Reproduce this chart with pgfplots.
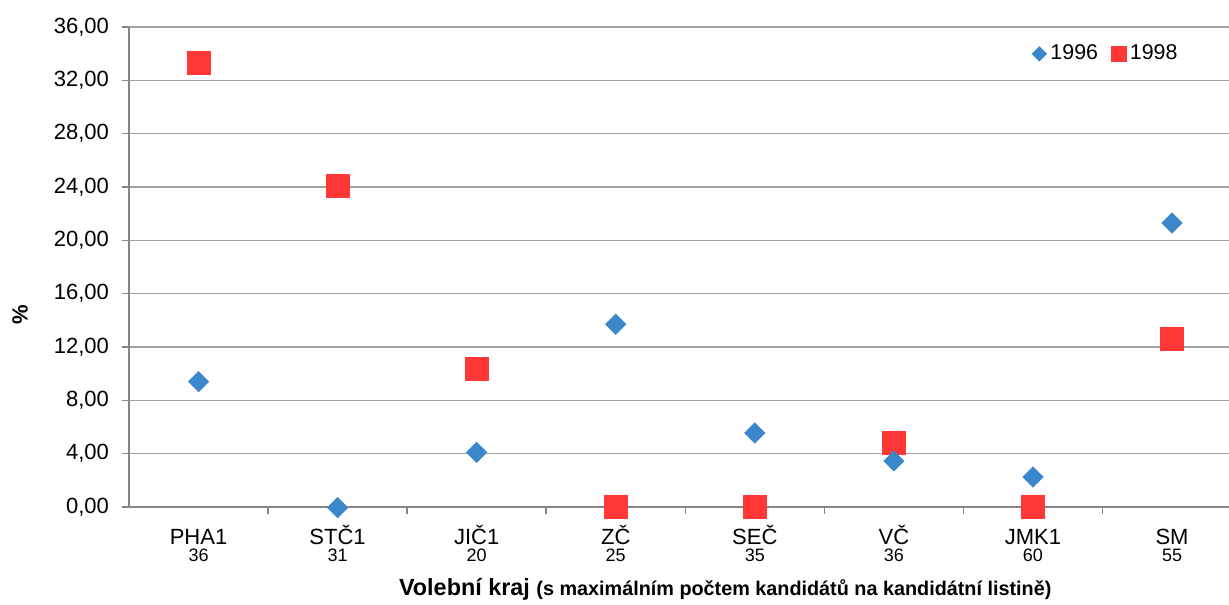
\documentclass[border=0pt]{standalone}
\usepackage{pgfplots}
\pgfplotsset{compat=1.18}
\usepackage{fontspec}
\setmainfont{Liberation Sans}
\usetikzlibrary{calc}
\definecolor{blue96}{RGB}{59,135,204}
\definecolor{red98}{RGB}{255,55,55}
\definecolor{gridgray}{RGB}{160,160,160}
\definecolor{axisgray}{RGB}{134,134,134}
% category name over its candidate count
\newcommand{\cl}[2]{\vphantom{ČP}#1\\\fontsize{9}{9}\selectfont #2}

\begin{document}
\begin{tikzpicture}
\begin{axis}[
    name=ax,
    scale only axis,
    width=550pt, height=240pt,
    xmin=-0.5, xmax=7.41,
    ymin=0, ymax=36,
    clip=false,
    axis x line=bottom, axis y line=left,
    axis line style={-, draw=axisgray, line width=0.75pt},
    ymajorgrids,
    grid style={gridgray, line width=0.75pt},
    ytick={0,4,...,36},
    xtick={0.5,1.5,...,6.5},
    xticklabels={},
    tick align=outside,
    major tick length=3.5pt,
    tick style={axisgray, line width=0.75pt},
    extra x ticks={0,...,7},
    extra x tick style={major tick length=0pt, xmajorgrids=false,
        xticklabel style={align=center, font=\fontsize{11}{8.5}\selectfont, yshift=-5.5pt}},
    extra x tick labels={
        {\cl{PHA1}{36}}, {\cl{STČ1}{31}}, {\cl{JIČ1}{20}}, {\cl{ZČ}{25}},
        {\cl{SEČ}{35}}, {\cl{VČ}{36}}, {\cl{JMK1}{60}}, {\cl{SM}{55}}},
    /pgf/number format/.cd, fixed, fixed zerofill, precision=2, use comma,
        assume math mode=true,
    /pgfplots/.cd,
    yticklabel style={font=\fontsize{11}{13}\selectfont, xshift=-3pt},
    xlabel={\fontsize{11.7}{14}\selectfont\bfseries Volební kraj \fontsize{9.9}{11}\selectfont(s maximálním počtem kandidátů na kandidátní listině)},
    xlabel style={at={(axis description cs:0.542,-0.185)}, anchor=base},
    ylabel={\fontsize{11}{13}\selectfont\bfseries\%},
    ylabel style={at={(axis description cs:-0.099,0.4)}, anchor=center},
    legend style={at={(0.889,0.944)}, anchor=center, draw=none, fill=none,
        legend columns=2, font=\fontsize{10.7}{12}\selectfont,
        /tikz/every even column/.append style={column sep=4.5pt},
        inner sep=0pt},
]
% 1998 drawn first: the 1996 diamonds lie on top
\addplot[only marks, mark=square*, mark size=5.75pt, color=red98, forget plot]
    coordinates {(0,33.3) (1,24.1) (2,10.35) (3,0) (4,0) (5,4.8) (6,0) (7,12.6)};
\addplot[only marks, mark=square*, mark size=3.55pt, mark options={rotate=45}, color=blue96, forget plot]
    coordinates {(0,9.4) (1,-0.05) (2,4.1) (3,13.7) (4,5.55) (5,3.45) (6,2.25) (7,21.3)};
\addlegendimage{only marks, mark=square*, mark size=2.5pt, mark options={rotate=45}, blue96}
\addlegendentry{1996}
\addlegendimage{only marks, mark=square*, mark size=3.7pt, red98}
\addlegendentry{1998}
\end{axis}
\pgfresetboundingbox
\path ($(ax.south west)+(-64.5pt,-48.5pt)$) rectangle ($(ax.south west)+(550pt,253.5pt)$);
\end{tikzpicture}
\end{document}
